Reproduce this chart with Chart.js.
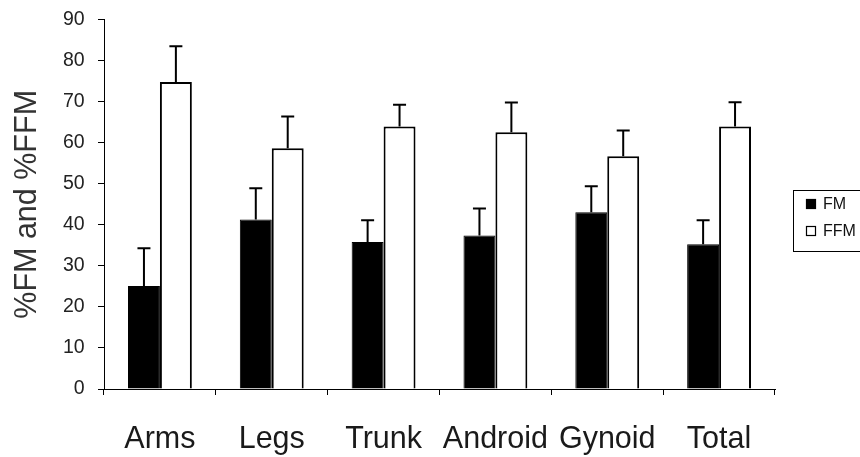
<!DOCTYPE html>
<html>
<head>
<meta charset="utf-8">
<script src="https://cdn.jsdelivr.net/npm/chart.js@4/dist/chart.umd.min.js"></script>
<style>
  html, body { margin: 0; padding: 0; background: #fff; overflow: hidden; }
  #wrap { width: 860px; height: 457px; }
</style>
</head>
<body>
<div id="wrap"><canvas id="myChart"></canvas></div>
<script>
const regions = ["Arms", "Legs", "Trunk", "Android", "Gynoid", "Total"];
const fmMean = [25.1, 41.3, 35.8, 37.4, 43.1, 35.3];
const fmSD = [9.2, 7.6, 5.3, 6.6, 6.3, 5.8];
const ffmMean = [74.8, 58.7, 64.0, 62.6, 56.7, 64.0];
const ffmSD = [8.7, 7.7, 5.3, 7.2, 6.3, 5.9];
const yTicks = [0, 10, 20, 30, 40, 50, 60, 70, 80, 90];

const FONT = "'Liberation Sans', Arial, sans-serif";

// upward error bars (mean + SD) with a small cap
const errorBars = {
  id: "errorBars",
  afterDatasetsDraw(chart) {
    const ctx = chart.ctx;
    const y = chart.scales.y;
    chart.data.datasets.forEach((ds, i) => {
      const meta = chart.getDatasetMeta(i);
      meta.data.forEach((bar, j) => {
        const top = y.getPixelForValue(ds.data[j] + ds.sd[j]);
        ctx.save();
        ctx.strokeStyle = "#000";
        ctx.lineWidth = 2;
        ctx.beginPath();
        ctx.moveTo(bar.x, bar.y);
        ctx.lineTo(bar.x, top);
        ctx.moveTo(bar.x - 6.5, top);
        ctx.lineTo(bar.x + 6.5, top);
        ctx.stroke();
        ctx.restore();
      });
    });
  },
};

// old style boxed legend, cut by the right edge
const boxLegend = {
  id: "boxLegend",
  afterDraw(chart) {
    const ctx = chart.ctx;
    ctx.save();
    ctx.strokeStyle = "#000";
    ctx.lineWidth = 1;
    ctx.strokeRect(793.5, 190.5, 80, 61);
    ctx.font = "16px " + FONT;
    ctx.textBaseline = "middle";
    chart.data.datasets.forEach((ds, i) => {
      const cy = 204 + i * 27;
      ctx.fillStyle = ds.backgroundColor;
      ctx.fillRect(806, cy - 5, 10, 10);
      ctx.strokeStyle = "#000";
      ctx.lineWidth = 1.2;
      ctx.strokeRect(806.5, cy - 4.5, 9, 9);
      ctx.fillStyle = "#111";
      ctx.fillText(ds.label, 823, cy + 1);
    });
    ctx.restore();
  },
};

new Chart(document.getElementById("myChart"), {
  type: "bar",
  data: {
    labels: regions,
    datasets: [
      {
        label: "FM",
        data: fmMean,
        sd: fmSD,
        backgroundColor: "#000",
        borderColor: "#000",
        borderWidth: 1,
      },
      {
        label: "FFM",
        data: ffmMean,
        sd: ffmSD,
        backgroundColor: "#fff",
        borderColor: "#000",
        borderWidth: 2,
      },
    ],
  },
  options: {
    responsive: true,
    maintainAspectRatio: false,
    animation: false,
    layout: { padding: { left: 0, right: 85, top: 19, bottom: 0 } },
    datasets: { bar: { barPercentage: 1, categoryPercentage: 0.571 } },
    plugins: {
      legend: { display: false },
      tooltip: { enabled: false },
    },
    scales: {
      x: {
        afterFit: (scale) => { scale.height = 68; },
        border: { color: "#000", width: 1 },
        grid: { drawOnChartArea: false, drawTicks: true, tickLength: 6, color: "#000" },
        ticks: { color: "#1a1a1a", padding: 26, maxRotation: 0, autoSkip: false, font: { family: FONT, size: 30.5 } },
      },
      y: {
        min: 0,
        max: 90,
        afterFit: (scale) => { scale.width = 104; },
        afterBuildTicks: (scale) => { scale.ticks = yTicks.map((v) => ({ value: v })); },
        border: { color: "#000", width: 1 },
        grid: { drawOnChartArea: false, drawTicks: true, tickLength: 6, color: "#000" },
        ticks: {
          color: "#222",
          padding: 8,
          font: { family: FONT, size: 19.5 },
          callback: (v) => v + " ",
        },
        title: {
          display: true,
          text: "%FM and %FFM",
          color: "#333",
          padding: { top: 9, bottom: 0 },
          font: { family: FONT, size: 30.5 },
        },
      },
    },
  },
  plugins: [errorBars, boxLegend],
});
</script>
</body>
</html>
